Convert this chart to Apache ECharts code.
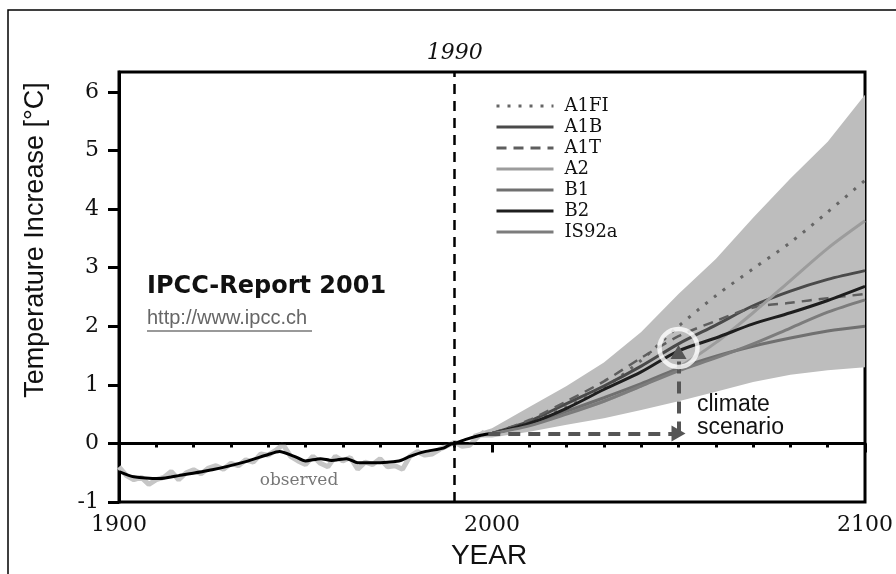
<!DOCTYPE html>
<html><head><meta charset="utf-8">
<script src="https://cdn.jsdelivr.net/npm/echarts@6/dist/echarts.min.js"></script>
<style>html,body{margin:0;padding:0;background:#fff}#c{width:896px;height:574px}</style>
</head><body><div id="c"></div>
<script>
// ---- data ----
const scenarioYears = [2000,2010,2020,2030,2040,2050,2060,2070,2080,2090,2100];
const A1FI  = [0.17,0.35,0.62,0.95,1.42,2.00,2.52,2.98,3.43,3.95,4.49];
const A1B   = [0.17,0.38,0.68,0.98,1.32,1.70,2.02,2.35,2.60,2.80,2.95];
const A1T   = [0.17,0.40,0.72,1.06,1.46,1.83,2.09,2.32,2.40,2.48,2.55];
const A2    = [0.17,0.33,0.52,0.72,0.98,1.30,1.72,2.23,2.78,3.33,3.80];
const B1    = [0.17,0.32,0.55,0.78,1.02,1.28,1.49,1.66,1.80,1.92,2.00];
const B2    = [0.17,0.34,0.60,0.92,1.22,1.58,1.80,2.04,2.23,2.44,2.68];
const IS92a = [0.17,0.30,0.50,0.72,0.98,1.24,1.46,1.70,1.97,2.24,2.45];

const envYears = [1995,2000,2010,2020,2030,2040,2050,2060,2070,2080,2090,2100];
const envLower = [0.10,0.10,0.20,0.32,0.43,0.57,0.72,0.88,1.05,1.17,1.25,1.30];
const envUpper = [0.16,0.26,0.62,0.98,1.38,1.90,2.55,3.15,3.85,4.52,5.15,5.95];

const obsSmoothYears = [1900,1904,1911,1916,1925,1934,1940,1943,1947,1950,1954,1957,1961,1964,1968,1975,1978,1982,1987,1989,1990,1993,1997,2000];
const obsSmoothVals  = [-0.48,-0.57,-0.60,-0.55,-0.45,-0.31,-0.19,-0.14,-0.22,-0.30,-0.26,-0.29,-0.26,-0.33,-0.33,-0.30,-0.22,-0.14,-0.08,-0.01,0.00,0.07,0.14,0.17];

const obsAnnualYears = [1900,1902,1904,1906,1908,1910,1912,1914,1916,1918,1920,1922,1924,1926,1928,1930,1932,1934,1936,1938,1940,1942,1944,1946,1948,1950,1952,1954,1956,1958,1960,1962,1964,1966,1968,1970,1972,1974,1976,1978,1980,1982,1984,1986,1988,1990,1992,1994,1996,1998];
const obsAnnualVals  = [-0.40,-0.55,-0.62,-0.58,-0.70,-0.62,-0.58,-0.48,-0.62,-0.50,-0.45,-0.52,-0.42,-0.38,-0.44,-0.34,-0.38,-0.28,-0.32,-0.18,-0.20,-0.12,-0.02,-0.22,-0.30,-0.36,-0.22,-0.34,-0.40,-0.22,-0.30,-0.24,-0.44,-0.32,-0.36,-0.26,-0.40,-0.38,-0.44,-0.22,-0.14,-0.20,-0.18,-0.10,-0.04,0.02,-0.05,-0.03,0.10,0.20];

const yTickValues = [-1,0,1,2,3,4,5,6];
const referenceYear = 1990;
const arrowStart = [1999, 0.17];
const arrowCorner = [2050, 0.17];
const arrowTip = [2050, 1.56];
const circlePoint = [2050, 1.63];

// ---- helpers ----
const pairs = (xs, ys) => xs.map((x, i) => [x, ys[i]]);

const scen = (name, vals, color, width, type) => ({
  name, type: 'line', data: pairs(scenarioYears, vals), symbol: 'none', smooth: 0.3, z: 4,
  lineStyle: { color, width, type: type || 'solid', cap: 'butt' }, itemStyle: { color }
});

const chart = echarts.init(document.getElementById('c'), null, { renderer: 'canvas' });
const serif = 'DejaVu Serif';

chart.setOption({
  animation: false,
  backgroundColor: '#fff',
  grid: { left: 119, right: 29, top: 72, bottom: 72, show: true, borderColor: '#000', borderWidth: 3, backgroundColor: 'transparent' },
  legend: {
    orient: 'vertical', left: 490, top: 92, itemWidth: 57, itemHeight: 12, itemGap: 3,
    data: ['A1FI','A1B','A1T','A2','B1','B2','IS92a'],
    itemStyle: { opacity: 0 },
    lineStyle: { width: 3 },
    textStyle: { fontFamily: serif, fontSize: 18, color: '#111', padding: [0,0,0,6], lineHeight: 18 },
    selectedMode: false
  },
  xAxis: {
    type: 'value', min: 1900, max: 2100, interval: 100,
    axisLine: { lineStyle: { color: '#000', width: 3 } },
    axisTick: { length: 9, lineStyle: { color: '#000', width: 3 } },
    minorTick: { show: true, splitNumber: 10, length: 4, lineStyle: { color: '#000', width: 3 } },
    splitLine: { show: false },
    axisLabel: { fontFamily: serif, fontSize: 22, color: '#111', margin: 12, formatter: v => String(v) }
  },
  yAxis: {
    type: 'value', min: -1, max: 6.34, interval: 1,
    axisLine: { show: true, lineStyle: { color: '#000', width: 3 } },
    axisTick: { show: true, length: 11, lineStyle: { color: '#000', width: 3 }, customValues: yTickValues },
    splitLine: { show: false },
    axisLabel: { fontFamily: serif, fontSize: 22, color: '#111', margin: 20, customValues: yTickValues }
  },
  series: [
    { name: 'envelope', type: 'custom', z: 1, silent: true,
      data: [[envYears[0], envLower[0]]],
      renderItem: (params, api) => {
        const top = envYears.map((y, i) => api.coord([y, envUpper[i]]));
        const bot = envYears.map((y, i) => api.coord([y, envLower[i]])).reverse();
        return { type: 'polygon', shape: { points: top.concat(bot) }, style: { fill: '#bdbdbd' } };
      } },
    { name: 'obsAnnual', type: 'line', data: pairs(obsAnnualYears, obsAnnualVals), symbol: 'none',
      lineStyle: { color: '#c6c6c6', width: 5 }, z: 2, silent: true },
    { name: 'observed', type: 'line', data: pairs(obsSmoothYears, obsSmoothVals), symbol: 'none', smooth: 0.2,
      lineStyle: { color: '#000', width: 3 }, z: 3, silent: true,
      markLine: {
        silent: true, symbol: ['none','none'], animation: false,
        data: [
          { yAxis: 0, lineStyle: { color: '#000', width: 2.5, type: 'solid' }, label: { show: false } },
          { xAxis: referenceYear, lineStyle: { color: '#000', width: 2.5, type: [10, 7] },
            label: { show: true, position: 'end', formatter: String(referenceYear), distance: 8,
                     fontFamily: serif, fontStyle: 'italic', fontSize: 22, color: '#111' } }
        ]
      }
    },
    scen('A1FI', A1FI, '#666666', 3, [3, 8]),
    scen('A1B', A1B, '#4a4a4a', 3),
    scen('A1T', A1T, '#5e5e5e', 2.5, [10, 7]),
    scen('A2', A2, '#9c9c9c', 3),
    scen('B1', B1, '#707070', 3),
    scen('B2', B2, '#1e1e1e', 3),
    scen('IS92a', IS92a, '#7c7c7c', 3),
    { name: 'arrows', type: 'line', data: [], symbol: 'none', z: 6,
      markLine: {
        silent: true, symbol: ['none', 'triangle'], symbolSize: [16, 14], animation: false,
        lineStyle: { color: '#555', width: 4, type: [12, 8] }, label: { show: false },
        data: [
          [{ coord: arrowStart }, { coord: arrowCorner }],
          [{ coord: arrowCorner }, { coord: arrowTip }]
        ]
      }
    },
    { name: 'circle', type: 'scatter', data: [circlePoint], symbol: 'circle', symbolSize: 38, z: 7, silent: true,
      itemStyle: { color: 'rgba(0,0,0,0)', borderColor: '#fff', borderWidth: 4.5 } }
  ],
  graphic: [
    { type: 'polyline', shape: { points: [[8, 574], [8, 10], [896, 10]] }, style: { stroke: '#000', lineWidth: 1.5, fill: null }, silent: true },
    { type: 'text', x: 36, y: 240, rotation: Math.PI / 2,
      style: { text: 'Temperature Increase [°C]', font: '27px "Liberation Sans"', fill: '#111', textAlign: 'center', textVerticalAlign: 'middle' } },
    { type: 'text', x: 489, y: 556,
      style: { text: 'YEAR', font: '28px "Liberation Sans"', fill: '#111', textAlign: 'center', textVerticalAlign: 'middle' } },
    { type: 'text', x: 147, y: 287,
      style: { text: 'IPCC-Report 2001', font: 'bold 24px "DejaVu Sans"', fill: '#111', textAlign: 'left', textVerticalAlign: 'middle' } },
    { type: 'text', x: 147, y: 318,
      style: { text: 'http://www.ipcc.ch', font: '20px "Liberation Sans"', fill: '#666', textAlign: 'left', textVerticalAlign: 'middle' } },
    { type: 'line', shape: { x1: 147, y1: 331, x2: 312, y2: 331 }, style: { stroke: '#777', lineWidth: 1.5 } },
    { type: 'text', x: 697, y: 405,
      style: { text: 'climate', font: '23px "Liberation Sans"', fill: '#111', textAlign: 'left', textVerticalAlign: 'middle' } },
    { type: 'text', x: 697, y: 428,
      style: { text: 'scenario', font: '23px "Liberation Sans"', fill: '#111', textAlign: 'left', textVerticalAlign: 'middle' } },
    { type: 'text', x: 299, y: 481,
      style: { text: 'observed', font: '17px "DejaVu Serif"', fill: '#777', textAlign: 'center', textVerticalAlign: 'middle' } }
  ]
});
</script>
</body></html>
